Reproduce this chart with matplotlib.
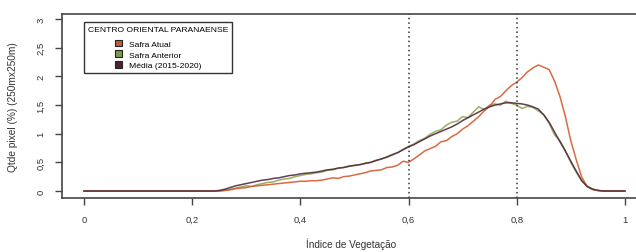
import matplotlib
matplotlib.use("Agg")
import matplotlib.pyplot as plt
from matplotlib.patches import Patch

plt.rcParams["font.family"] = ["Liberation Sans", "DejaVu Sans"]

# indice de vegetacao, step 0.01 from 0 to 1
x = [i / 100 for i in range(101)]

safra_atual = [0.0] * 26 + [
    0.01, 0.02, 0.04, 0.05, 0.06, 0.08, 0.09, 0.10, 0.11, 0.12,   # 0.26-0.35
    0.13, 0.14, 0.15, 0.16, 0.17, 0.17, 0.18, 0.18, 0.19, 0.21,   # 0.36-0.45
    0.23, 0.22, 0.25, 0.26, 0.28, 0.30, 0.32, 0.35, 0.36, 0.37,   # 0.46-0.55
    0.41, 0.42, 0.45, 0.52, 0.50, 0.56, 0.63, 0.70, 0.74, 0.78,   # 0.56-0.65
    0.86, 0.88, 0.95, 1.00, 1.08, 1.14, 1.22, 1.30, 1.40, 1.48,   # 0.66-0.75
    1.60, 1.65, 1.75, 1.84, 1.90, 1.98, 2.08, 2.15, 2.20, 2.16,   # 0.76-0.85
    2.12, 1.92, 1.65, 1.30, 0.88, 0.55, 0.25, 0.08, 0.03, 0.01,   # 0.86-0.95
    0.0, 0.0, 0.0, 0.0, 0.0]

safra_anterior = [0.0] * 26 + [
    0.01, 0.03, 0.05, 0.07, 0.09, 0.08, 0.11, 0.13, 0.15, 0.16,
    0.19, 0.21, 0.22, 0.25, 0.27, 0.29, 0.30, 0.32, 0.33, 0.36,
    0.37, 0.40, 0.41, 0.44, 0.44, 0.46, 0.49, 0.50, 0.54, 0.56,
    0.60, 0.64, 0.67, 0.73, 0.78, 0.82, 0.88, 0.92, 0.99, 1.04,
    1.07, 1.15, 1.20, 1.22, 1.30, 1.28, 1.38, 1.47, 1.42, 1.50,
    1.52, 1.50, 1.57, 1.53, 1.50, 1.44, 1.48, 1.46, 1.40, 1.33,
    1.18, 0.98, 0.88, 0.70, 0.50, 0.33, 0.19, 0.09, 0.04, 0.01,
    0.0, 0.0, 0.0, 0.0, 0.0]

media = [0.0] * 25 + [
    0.01, 0.03, 0.06, 0.09, 0.11, 0.13, 0.15, 0.17, 0.19, 0.20,   # 0.25-0.34
    0.22, 0.23, 0.25, 0.27, 0.28, 0.30, 0.31, 0.32, 0.33, 0.35,   # 0.35-0.44
    0.37, 0.38, 0.40, 0.41, 0.43, 0.45, 0.46, 0.48, 0.50, 0.53,   # 0.45-0.54
    0.56, 0.59, 0.63, 0.67, 0.72, 0.77, 0.81, 0.86, 0.91, 0.96,   # 0.55-0.64
    1.00, 1.04, 1.08, 1.12, 1.17, 1.23, 1.28, 1.33, 1.38, 1.43,   # 0.65-0.74
    1.47, 1.50, 1.52, 1.54, 1.54, 1.53, 1.52, 1.50, 1.47, 1.43,   # 0.75-0.84
    1.33, 1.20, 1.03, 0.86, 0.70, 0.52, 0.35, 0.18, 0.08, 0.03,   # 0.85-0.94
    0.01, 0.0, 0.0, 0.0, 0.0, 0.0]

series = [
    ("Safra Atual", safra_atual, "#d65a2e", "#c4583c"),
    ("Safra Anterior", safra_anterior, "#94a453", "#7f9a48"),
    ("Média (2015-2020)", media, "#4f2b3f", "#4a2338"),
]

fig = plt.figure(figsize=(6.36, 2.53), dpi=100)
ax = fig.add_axes([62 / 636, 54 / 253, 578 / 636, 184 / 253])

for name, y, col, _ in [series[1], series[0], series[2]]:
    ax.plot(x, y, color=col, lw=1.1, alpha=0.9)

for v in (0.6, 0.8):
    ax.axvline(v, color="#333333", ls=(0, (1, 2)), lw=1.1)

ax.set_xlim(-0.0407, 1.028)
ax.set_ylim(-0.122, 3.09)
ax.set_xticks([0, 0.2, 0.4, 0.6, 0.8, 1])
ax.set_xticklabels(["0", "0,2", "0,4", "0,6", "0,8", "1"], fontsize=6.8, color="#333333")
ax.set_yticks([0, 0.5, 1, 1.5, 2, 2.5, 3])
ax.set_yticklabels(["0", "0,5", "1", "1,5", "2", "2,5", "3"], fontsize=6.8,
                   rotation=90, va="center", color="#333333")
ax.tick_params(length=5, width=1, color="#444444", pad=7)
ax.spines["right"].set_visible(False)
for sp in ("top", "left", "bottom"):
    ax.spines[sp].set_color("#444444")
    ax.spines[sp].set_linewidth(1.2)

ax.set_xlabel("Índice de Vegetação", fontsize=7.2, color="#333333", labelpad=10)
ax.set_ylabel("Qtde pixel (%) (250mx250m)", fontsize=7.3, color="#333333", labelpad=13)

handles = [Patch(facecolor=c, edgecolor="#222222", lw=0.8, label=n) for n, _, _, c in series]
leg = ax.legend(handles=handles, title="CENTRO ORIENTAL PARANAENSE", loc="upper left",
                bbox_to_anchor=(22 / 578, 176 / 184), borderaxespad=0, fontsize=6.1,
                title_fontsize=6.1, handlelength=0.8, handleheight=0.8, handletextpad=0.8,
                labelspacing=0.3, borderpad=0.45, fancybox=False, framealpha=1)
leg.get_frame().set_edgecolor("#333333")
leg.get_frame().set_linewidth(1.0)
leg._legend_box.sep = 5

fig.savefig("out.png", dpi=100)
